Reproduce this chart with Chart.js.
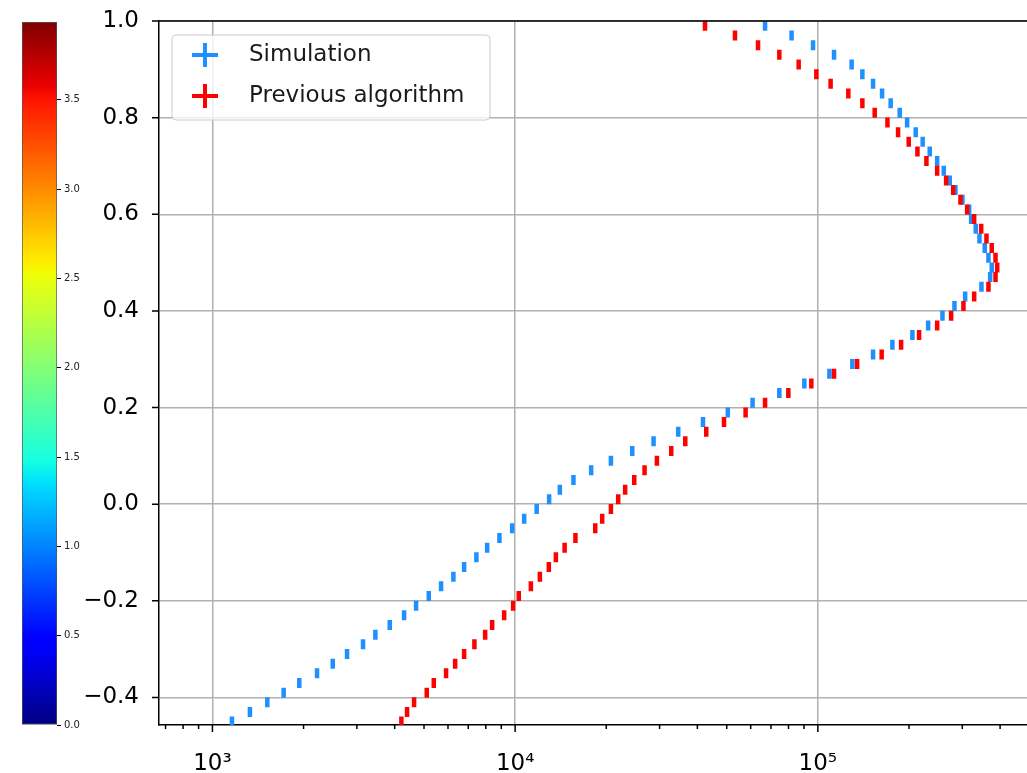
<!DOCTYPE html>
<html>
<head>
<meta charset="utf-8">
<script src="https://cdn.jsdelivr.net/npm/chart.js@4.4.1/dist/chart.umd.min.js"></script>
<style>
  html, body { margin: 0; padding: 0; background: #fff; overflow: hidden; }
  #wrap { position: relative; width: 1027px; height: 773px; overflow: hidden; }
  #cbar, #main { position: absolute; left: 0; top: 0; }
</style>
</head>
<body>
<div id="wrap">
  <canvas id="cbar" width="110" height="773"></canvas>
  <canvas id="main" width="1037" height="773"></canvas>
</div>
<script>
// y positions of the profile points
const yLevels = [
  -0.45, -0.43, -0.41, -0.39, -0.37, -0.35, -0.33, -0.31, -0.29, -0.27,
  -0.25, -0.23, -0.21, -0.19, -0.17, -0.15, -0.13, -0.11, -0.09, -0.07,
  -0.05, -0.03, -0.01, 0.01, 0.03, 0.05, 0.07, 0.09, 0.11, 0.13,
  0.15, 0.17, 0.19, 0.21, 0.23, 0.25, 0.27, 0.29, 0.31, 0.33,
  0.35, 0.37, 0.39, 0.41, 0.43, 0.45, 0.47, 0.49, 0.51, 0.53,
  0.55, 0.57, 0.59, 0.61, 0.63, 0.65, 0.67, 0.69, 0.71, 0.73,
  0.75, 0.77, 0.79, 0.81, 0.83, 0.85, 0.87, 0.89, 0.91, 0.93,
  0.95, 0.97, 0.99
];

// Simulation (blue)
const simulationX = [
  1160, 1330, 1518, 1719, 1936, 2216, 2497, 2784, 3144, 3453,
  3853, 4297, 4707, 5184, 5693, 6252, 6783, 7448, 8082, 8874,
  9775, 10710, 11780, 12950, 14050, 15580, 17830, 20720, 24370, 28660,
  34580, 41740, 50410, 60870, 74600, 90240, 109200, 130000, 152200, 176300,
  205300, 231400, 258000, 282700, 306600, 347100, 370900, 375400, 366100, 355900,
  341900, 332400, 320900, 316100, 300400, 284800, 272700, 260600, 247800, 234200,
  222000, 210500, 197200, 186400, 174000, 163000, 152200, 140300, 129300, 113100,
  96400, 81900, 66930
];

// Previous algorithm (red)
const previousX = [
  4209, 4395, 4636, 5105, 5385, 5913, 6335, 6783, 7335, 7960,
  8395, 9197, 9849, 10280, 11270, 12070, 12920, 13630, 14570, 15820,
  18390, 19390, 20720, 21900, 23090, 24740, 26760, 29400, 32790, 36480,
  42790, 48970, 57720, 66930, 79890, 95170, 113100, 134800, 162500, 188400,
  216000, 247800, 275600, 302700, 328400, 366100, 386300, 391300, 386300, 375400,
  360600, 346400, 328400, 311300, 295900, 279900, 265300, 247800, 228400, 213300,
  199600, 184100, 169800, 154100, 140300, 126100, 110200, 98850, 86420, 74600,
  63440, 53240, 42380
];

const seriesNames = ["Simulation", "Previous algorithm"];

// axes
const xMin = 666;
const xMax = 492700;
const yMin = -0.457;
const yMax = 1.0;
const xTickValues = [700, 800, 900, 1000, 2000, 3000, 4000, 5000, 6000, 7000, 8000, 9000,
  10000, 20000, 30000, 40000, 50000, 60000, 70000, 80000, 90000, 100000, 200000, 300000, 400000];
const xTickLabels = ["", "", "", "10³", "", "", "", "", "", "", "", "",
  "10⁴", "", "", "", "", "", "", "", "", "10⁵", "", "", ""];
const yTickValues = [-0.4, -0.2, 0.0, 0.2, 0.4, 0.6, 0.8, 1.0];
const yTickLabels = ["−0.4", "−0.2", "0.0", "0.2", "0.4", "0.6", "0.8", "1.0"];

// colorbar
const cbarRange = [0, 3.935];
const cbarTicks = [0.0, 0.5, 1.0, 1.5, 2.0, 2.5, 3.0, 3.5];
const jetStops = [
  [0, "#000080"], [0.11, "#0000ff"], [0.125, "#0000ff"], [0.34, "#00dbff"],
  [0.35, "#00e6f7"], [0.375, "#15ffe2"], [0.64, "#efff08"], [0.65, "#f7f600"],
  [0.66, "#ffec00"], [0.89, "#ff1300"], [0.91, "#e80000"], [1, "#800000"]
];

Chart.defaults.font.family = "'DejaVu Sans', sans-serif";

function toPoints(xs) {
  return xs.map((x, i) => ({ x: x, y: yLevels[i] }));
}

// spine on top + outward tick marks (minor ones shorter)
const axisFrame = {
  id: "axisFrame",
  afterDraw(chart) {
    const { ctx, chartArea: a, scales: { x, y } } = chart;
    ctx.save();
    ctx.strokeStyle = "#000";
    ctx.lineWidth = 1.5;
    ctx.beginPath();
    ctx.moveTo(a.left, a.top);
    ctx.lineTo(a.right, a.top);
    x.ticks.forEach((t, i) => {
      const px = x.getPixelForValue(t.value);
      if (px < a.left - 0.5 || px > a.right + 0.5) return;
      const len = xTickLabels[i] ? 7 : 4;
      ctx.moveTo(px, a.bottom);
      ctx.lineTo(px, a.bottom + len);
    });
    y.ticks.forEach(t => {
      const py = y.getPixelForValue(t.value);
      ctx.moveTo(a.left, py);
      ctx.lineTo(a.left - 7, py);
    });
    ctx.stroke();
    ctx.restore();
  }
};

// legend box inside the plot, matplotlib style
const inlineLegend = {
  id: "inlineLegend",
  afterDraw(chart) {
    const { ctx, chartArea: a } = chart;
    const bx = a.left + 13, by = a.top + 14, bw = 318, bh = 85;
    ctx.save();
    ctx.beginPath();
    ctx.roundRect(bx, by, bw, bh, 4);
    ctx.fillStyle = "rgba(255,255,255,0.8)";
    ctx.fill();
    ctx.strokeStyle = "#cccccc";
    ctx.lineWidth = 1;
    ctx.stroke();
    chart.data.datasets.forEach((ds, i) => {
      const cx = bx + 33;
      const cy = by + 20 + i * 41;
      ctx.strokeStyle = ds.borderColor;
      ctx.lineWidth = 4;
      ctx.beginPath();
      ctx.moveTo(cx - 13, cy);
      ctx.lineTo(cx + 13, cy);
      ctx.moveTo(cx, cy - 12);
      ctx.lineTo(cx, cy + 12);
      ctx.stroke();
      ctx.fillStyle = "#1a1a1a";
      ctx.font = "23px 'DejaVu Sans'";
      ctx.textBaseline = "middle";
      ctx.fillText(ds.label, bx + 77, cy);
    });
    ctx.restore();
  }
};

const mainChart = new Chart(document.getElementById("main"), {
  type: "scatter",
  data: {
    datasets: [
      { label: seriesNames[0], data: toPoints(simulationX), borderColor: "#1e90ff", backgroundColor: "#1e90ff", order: 1 },
      { label: seriesNames[1], data: toPoints(previousX), borderColor: "#ff0000", backgroundColor: "#ff0000", order: 0 }
    ]
  },
  options: {
    responsive: false,
    animation: false,
    events: [],
    layout: { padding: { top: 21, left: 0, right: 0, bottom: 0 } },
    elements: {
      point: { pointStyle: "line", rotation: 90, radius: 5, hoverRadius: 5, borderWidth: 4.5 }
    },
    plugins: {
      legend: { display: false },
      tooltip: { enabled: false }
    },
    scales: {
      x: {
        type: "logarithmic",
        min: xMin,
        max: xMax,
        afterBuildTicks: s => { s.ticks = xTickValues.map(v => ({ value: v })); },
        afterFit: s => { s.height = 48; s.paddingLeft = 0; s.paddingRight = 0; },
        grid: {
          color: c => (xTickLabels[c.index] ? "#b0b0b0" : "rgba(0,0,0,0)"),
          lineWidth: 1.5,
          drawTicks: false
        },
        border: { display: true, color: "#000", width: 1.5 },
        ticks: {
          autoSkip: false,
          maxRotation: 0,
          padding: 25,
          color: "#000",
          font: { size: 23 },
          callback: (v, i) => xTickLabels[i]
        }
      },
      y: {
        min: yMin,
        max: yMax,
        afterBuildTicks: s => { s.ticks = yTickValues.map(v => ({ value: v })); },
        afterFit: s => { s.width = 159; s.paddingTop = 0; s.paddingBottom = 0; },
        grid: { color: "#b0b0b0", lineWidth: 1.5, drawTicks: false },
        border: { display: true, color: "#000", width: 1.5 },
        ticks: {
          padding: 20,
          color: "#000",
          font: { size: 23 },
          callback: (v, i) => yTickLabels[i]
        }
      }
    }
  },
  plugins: [axisFrame, inlineLegend]
});

function jetGradient(chart) {
  const a = chart.chartArea;
  if (!a) return "#000080";
  const g = chart.ctx.createLinearGradient(0, a.bottom, 0, a.top);
  jetStops.forEach(s => g.addColorStop(s[0], s[1]));
  return g;
}

const cbarChart = new Chart(document.getElementById("cbar"), {
  type: "bar",
  data: {
    labels: [""],
    datasets: [{
      data: [cbarRange],
      backgroundColor: c => jetGradient(c.chart),
      borderColor: "#555",
      borderWidth: 1,
      borderSkipped: false,
      barPercentage: 1,
      categoryPercentage: 1
    }]
  },
  options: {
    responsive: false,
    animation: false,
    events: [],
    layout: { padding: { left: 22, top: 22, bottom: 48, right: 0 } },
    plugins: {
      legend: { display: false },
      tooltip: { enabled: false }
    },
    scales: {
      x: { display: false },
      y: {
        position: "right",
        min: cbarRange[0],
        max: cbarRange[1],
        afterBuildTicks: s => { s.ticks = cbarTicks.map(v => ({ value: v })); },
        afterFit: s => { s.width = 110 - 22 - 35; },
        grid: { drawOnChartArea: false, tickLength: 4, tickColor: "#000", tickWidth: 1 },
        border: { display: false },
        ticks: {
          padding: 3,
          color: "#222",
          font: { size: 10 },
          callback: v => v.toFixed(1)
        }
      }
    }
  }
});
</script>
</body>
</html>
